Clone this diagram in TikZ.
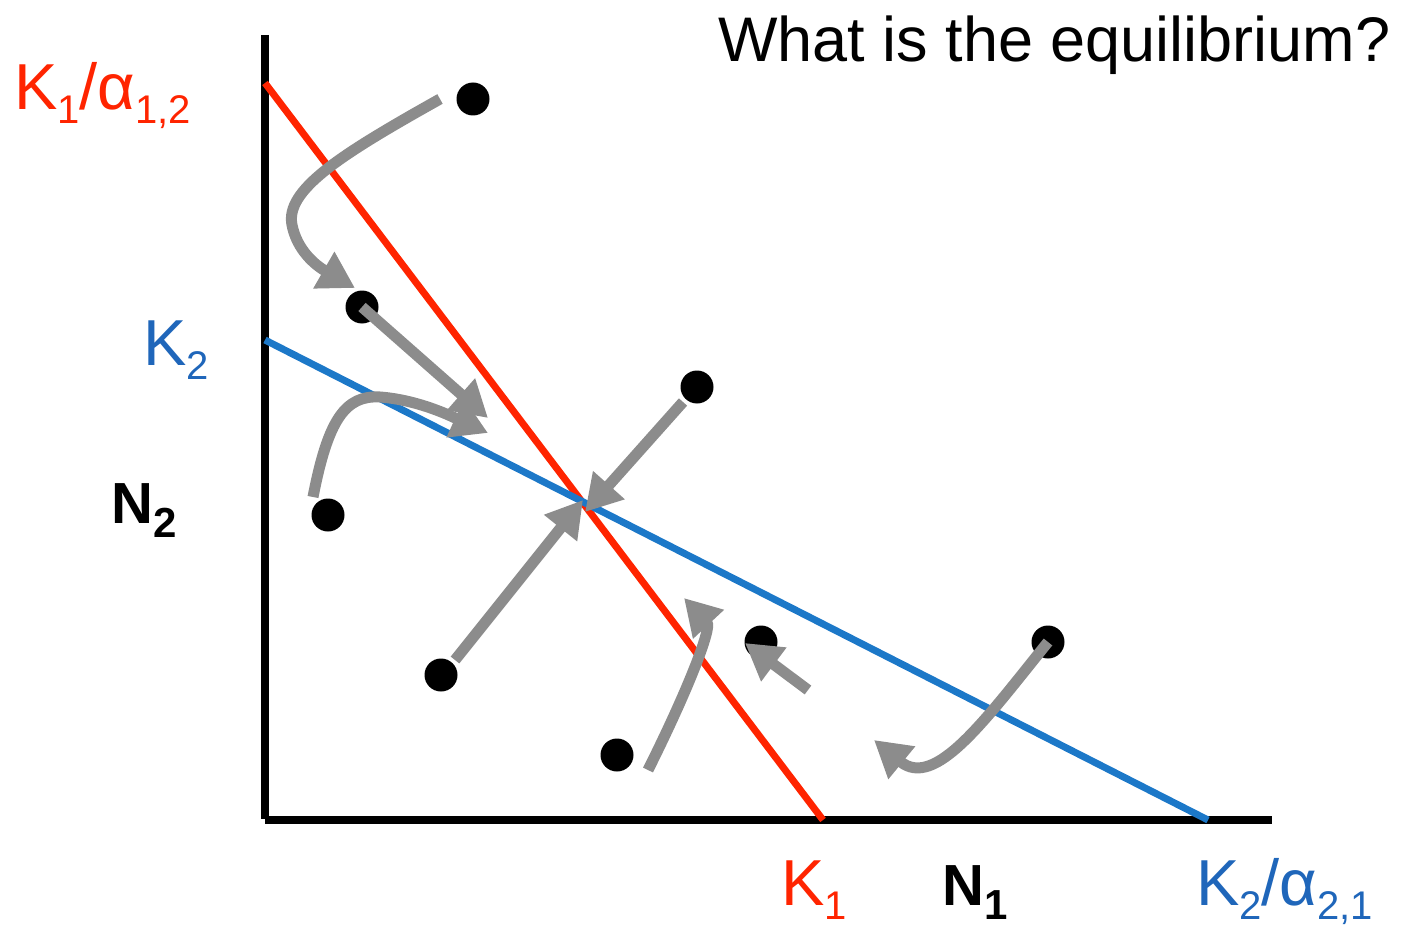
\documentclass[tikz,border=0pt]{standalone}
\usepackage{fontspec}
\setmainfont{Liberation Sans}
\usetikzlibrary{arrows.meta}
\definecolor{kred}{HTML}{FF2400}
\definecolor{kblue}{HTML}{1C78C8}
\definecolor{tblue}{HTML}{1F66BA}
\definecolor{agray}{HTML}{8C8C8C}
\newcommand\lowsub[1]{\raisebox{-14pt}{\fontsize{40}{40}\selectfont #1}}
\newcommand\lowsubb[1]{\raisebox{-14pt}{\fontsize{42}{42}\selectfont\bfseries #1}}
\begin{document}
\begin{tikzpicture}[x=1pt,y=-1pt,
  axis/.style={line width=7.5pt},
  isoline/.style={line width=7pt},
  dot/.style={circle,fill=black,inner sep=0pt,minimum size=33pt},
  traj/.style={draw=agray,line width=11pt,-{Triangle[length=36pt,width=40pt]}},
  lbl/.style={anchor=base west,inner sep=0pt,font=\fontsize{65}{65}\selectfont}]
\useasboundingbox (0,0) rectangle (1403,928);
% axes
\coordinate (O) at (265,819);
\coordinate (Ytop) at (265,35);
\coordinate (Xstart) at (265,820);
\coordinate (Xend) at (1272,820);
\draw[axis] (Ytop) -- (O);
\draw[axis] (Xstart) -- (Xend);
% isoclines
\coordinate (R1) at (265,83);
\coordinate (R2) at (823,820);
\coordinate (B1) at (265,340);
\coordinate (B2) at (1208,820);
\draw[isoline,kred] (R1) -- (R2);
\draw[isoline,kblue] (B1) -- (B2);
% dots
\node[dot] (d1) at (473,99) {};
\node[dot] (d2) at (362,307) {};
\node[dot] (d3) at (697,387) {};
\node[dot] (d4) at (328,515) {};
\node[dot] (d5) at (441,675) {};
\node[dot] (d6) at (617,755) {};
\node[dot] (d7) at (761,642) {};
\node[dot] (d8) at (1048,642) {};
% arrow endpoints
\coordinate (s1) at (440,99);  \coordinate (e1) at (355,288);
\coordinate (e2) at (488,418);
\coordinate (s3) at (313,497); \coordinate (e3) at (488,433);
\coordinate (s4) at (683,402); \coordinate (e4) at (585,512);
\coordinate (s5) at (455,660); \coordinate (e5) at (583,500);
\coordinate (s6) at (648,770); \coordinate (e6) at (684,598);
\coordinate (s7) at (808,690); \coordinate (e7) at (745,643);
\coordinate (e8) at (874,740);
% trajectories
\draw[traj] (s1) .. controls (340,155) and (285,190) .. (292,225) .. controls (297,250) and (315,265) .. (e1);
\draw[traj] (d2.center) -- (e2);
\draw[traj] (s3) .. controls (328,420) and (345,395) .. (380,397) .. controls (420,400) and (455,418) .. (e3);
\draw[traj] (s4) -- (e4);
\draw[traj] (s5) -- (e5);
\draw[traj] (s6) .. controls (688,690) and (712,628) .. (e6);
\draw[traj] (s7) -- (e7);
\draw[traj] (d8.center) .. controls (985,720) and (935,790) .. (e8);
% labels
\node[lbl,font=\fontsize{63}{63}\selectfont] (title) at (718,62) {What is the equilibrium?};
\node[lbl,text=kred] (lk1a) at (14,110) {K\lowsub{1}/α\lowsub{1,2}};
\node[lbl,text=tblue] (lk2) at (143,365) {K\lowsub{2}};
\node[lbl,font=\fontsize{58}{58}\selectfont\bfseries] (ln2) at (111,523) {N\lowsubb{2}};
\node[lbl,text=kred] (lk1) at (781,905) {K\lowsub{1}};
\node[lbl,font=\fontsize{58}{58}\selectfont\bfseries] (ln1) at (942,905) {N\lowsubb{1}};
\node[lbl,text=tblue] (lk2a) at (1196,905) {K\lowsub{2}/α\lowsub{2,1}};
\end{tikzpicture}
\end{document}
